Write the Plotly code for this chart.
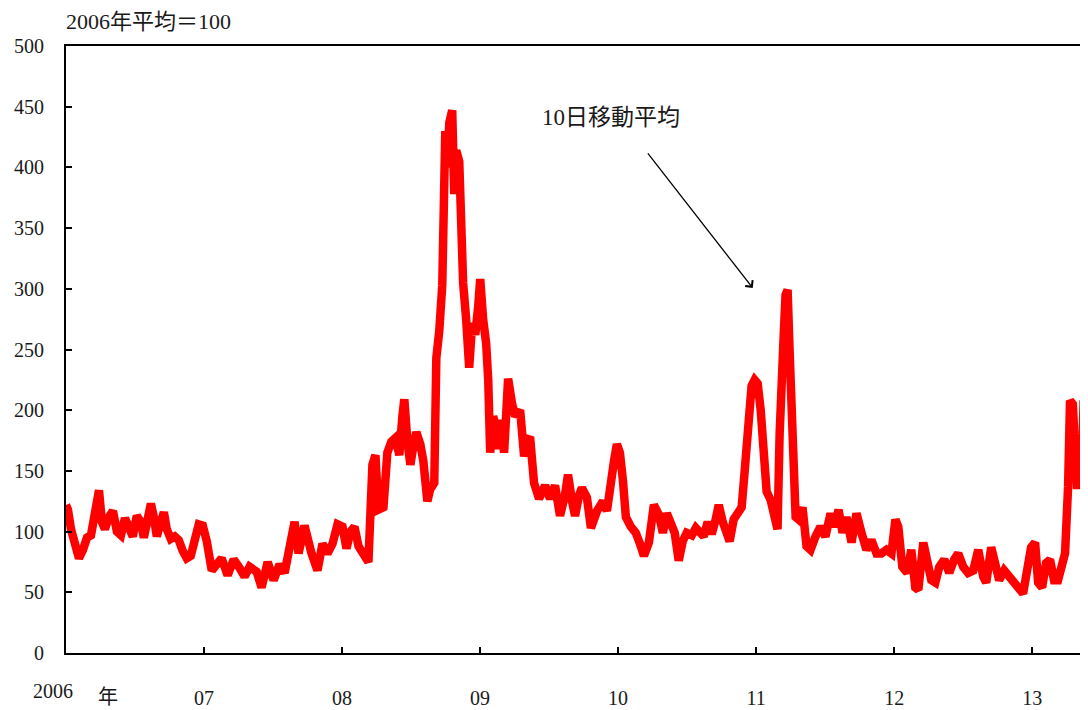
import plotly.graph_objects as go

# time in fractional years, 10-day moving average index (2006 avg = 100)
years = [
    2006.000, 2006.014, 2006.036, 2006.058, 2006.094, 2006.123, 2006.152, 2006.181, 2006.210, 2006.239,
    2006.260, 2006.282, 2006.311, 2006.340, 2006.369, 2006.398, 2006.427, 2006.456, 2006.484, 2006.513,
    2006.542, 2006.564, 2006.593, 2006.615, 2006.636, 2006.658, 2006.680, 2006.709, 2006.730, 2006.759,
    2006.788, 2006.817, 2006.846, 2006.875, 2006.904, 2006.933, 2006.962, 2006.991,
    2007.020, 2007.056, 2007.092, 2007.128, 2007.171, 2007.215, 2007.258, 2007.294, 2007.330, 2007.381,
    2007.417, 2007.461, 2007.504, 2007.547, 2007.584, 2007.620, 2007.656, 2007.685, 2007.728, 2007.779,
    2007.822, 2007.858, 2007.894, 2007.931, 2007.967,
    2008.003, 2008.032, 2008.061, 2008.090, 2008.119, 2008.148, 2008.176, 2008.191, 2008.220, 2008.242,
    2008.263, 2008.300, 2008.328, 2008.357, 2008.386, 2008.415, 2008.437, 2008.451, 2008.473, 2008.495,
    2008.516, 2008.538, 2008.567, 2008.589, 2008.618, 2008.639, 2008.668, 2008.683, 2008.704, 2008.726,
    2008.748, 2008.762, 2008.777, 2008.798, 2008.813, 2008.827, 2008.849, 2008.863, 2008.877, 2008.899,
    2008.921, 2008.943, 2008.965, 2008.986,
    2009.001, 2009.022, 2009.044, 2009.059, 2009.073, 2009.095, 2009.117, 2009.131, 2009.153, 2009.174,
    2009.203, 2009.232, 2009.254, 2009.290, 2009.319, 2009.341, 2009.362, 2009.391, 2009.427, 2009.471,
    2009.507, 2009.543, 2009.579, 2009.615, 2009.637, 2009.666, 2009.688, 2009.717, 2009.738, 2009.774,
    2009.803, 2009.847, 2009.890, 2009.919, 2009.948, 2009.970, 2009.991,
    2010.013, 2010.035, 2010.056, 2010.092, 2010.128, 2010.158, 2010.187, 2010.223, 2010.259, 2010.295,
    2010.324, 2010.353, 2010.382, 2010.410, 2010.439, 2010.468, 2010.497, 2010.534, 2010.563, 2010.591,
    2010.620, 2010.649, 2010.678, 2010.707, 2010.729, 2010.758, 2010.787, 2010.808, 2010.837, 2010.866,
    2010.895, 2010.917, 2010.939, 2010.967, 2010.989,
    2011.011, 2011.033, 2011.054, 2011.076, 2011.105, 2011.134, 2011.155, 2011.170, 2011.184, 2011.199,
    2011.213, 2011.228, 2011.242, 2011.257, 2011.271, 2011.286, 2011.307, 2011.336, 2011.365, 2011.394,
    2011.430, 2011.466, 2011.502, 2011.539, 2011.568, 2011.597, 2011.626, 2011.654, 2011.691, 2011.727,
    2011.763, 2011.799, 2011.835, 2011.872, 2011.908, 2011.944, 2011.980,
    2012.009, 2012.030, 2012.059, 2012.095, 2012.124, 2012.153, 2012.175, 2012.211, 2012.240, 2012.269,
    2012.298, 2012.327, 2012.363, 2012.399, 2012.435, 2012.464, 2012.500, 2012.536, 2012.573, 2012.609,
    2012.645, 2012.667, 2012.703, 2012.732, 2012.761, 2012.797, 2012.833, 2012.869, 2012.898, 2012.934,
    2012.963, 2012.992,
    2013.021, 2013.043, 2013.072, 2013.100, 2013.129, 2013.158, 2013.187, 2013.216, 2013.238, 2013.260,
    2013.274, 2013.294, 2013.308, 2013.325, 2013.340, 2013.356, 2013.372, 2013.392,
]
values = [
    122, 118, 102, 94, 78, 85, 95, 97, 112, 134,
    108, 102, 112, 117, 100, 97, 111, 104, 96, 113,
    108, 95, 113, 123, 112, 96, 105, 116, 102, 94,
    96, 93, 84, 78, 80, 95, 106, 105,
    92, 68, 72, 78, 64, 77, 70, 63, 71, 67,
    54, 75, 60, 73, 66, 88, 108, 82, 105, 82,
    68, 90, 82, 90, 106,
    104, 86, 100, 104, 88, 82, 76, 75, 155, 163,
    118, 120, 165, 174, 177, 163, 195, 209, 175, 155,
    170, 182, 172, 158, 125, 135, 140, 243, 265, 303,
    430, 400, 437, 447, 378, 414, 405, 352, 305, 275,
    235, 272, 262, 285,
    308, 275, 255, 225, 165, 195, 185, 168, 192, 165,
    226, 205, 195, 200, 162, 175, 178, 140, 127, 138,
    127, 138, 113, 130, 147, 125, 113, 130, 136, 128,
    103, 117, 125, 117, 135, 158, 172,
    165, 142, 112, 104, 99, 90, 80, 91, 122, 114,
    99, 115, 108, 99, 76, 92, 99, 97, 103, 98,
    96, 108, 98, 110, 122, 108, 100, 92, 110, 117,
    120, 150, 185, 220, 225,
    222, 200, 155, 133, 126, 110, 102, 180, 245, 260,
    295, 299, 250, 185, 135, 112, 110, 120, 88, 85,
    96, 104, 96, 115, 104, 118, 99, 112, 91, 115,
    99, 85, 93, 82, 82, 85, 82,
    110, 104, 71, 66, 85, 54, 52, 91, 77, 60,
    58, 71, 77, 66, 77, 82, 71, 66, 68, 85,
    63, 58, 87, 74, 60, 68, 63, 58, 52, 49,
    68, 87,
    91, 58, 54, 74, 77, 60, 60, 77, 82, 137,
    208, 205, 150, 135, 175, 138, 205, 205,
]

tick_years = [2006, 2007, 2008, 2009, 2010, 2011, 2012, 2013]
tick_text = ["", "07", "08", "09", "10", "11", "12", "13"]
y_ticks = [0, 50, 100, 150, 200, 250, 300, 350, 400, 450, 500]

FONT = "Liberation Serif, Noto Sans CJK JP, serif"
TXT = "#1a1a1a"

fig = go.Figure()
fig.add_trace(go.Scatter(
    x=years, y=values, mode="lines",
    line=dict(color="#ff0000", width=8.5),
    hoverinfo="skip", showlegend=False,
))

# page body has an 8px margin: figure is 1080x702 placed at (8, 8)
fig.update_layout(
    width=1080, height=702,
    margin=dict(l=58, r=0, t=38, b=57),
    paper_bgcolor="white", plot_bgcolor="white",
    font=dict(family=FONT, size=20, color=TXT),
    xaxis=dict(
        range=[2006, 2006 + 1022 / 138.3],
        tickvals=tick_years, ticktext=tick_text,
        ticks="inside", ticklen=6, tickwidth=1.5, tickcolor="black",
        showline=True, linecolor="black", linewidth=2, mirror=True,
        showgrid=False, zeroline=False,
        ticklabelstandoff=26,
        tickfont=dict(family=FONT, size=20, color=TXT),
    ),
    yaxis=dict(
        range=[0, 500],
        tickvals=y_ticks,
        ticks="inside", ticklen=6, tickwidth=1.5, tickcolor="black",
        showline=True, linecolor="black", linewidth=2, mirror=True,
        showgrid=False, zeroline=False,
        ticklabelstandoff=16,
        tickfont=dict(family=FONT, size=20, color=TXT),
    ),
    annotations=[
        dict(text="2006年平均＝100", xref="paper", yref="paper", x=-0.002, y=1.04,
             xanchor="left", yanchor="middle", showarrow=False,
             font=dict(family=FONT, size=22, color=TXT)),
        dict(text="2006", xref="x", yref="paper", x=2006, y=-0.062,
             xanchor="center", yanchor="middle", xshift=-13, showarrow=False,
             font=dict(family=FONT, size=20, color=TXT)),
        dict(text="年", xref="paper", yref="paper", x=0.041, y=-0.073,
             xanchor="center", yanchor="middle", showarrow=False,
             font=dict(family=FONT, size=20, color=TXT)),
        dict(text="10日移動平均", xref="x", yref="y", x=2009.948, y=441.5,
             xanchor="center", yanchor="middle", showarrow=False,
             font=dict(family=FONT, size=23, color=TXT)),
        dict(text="", xref="x", yref="y", x=2010.975, y=300.7,
             ax=-106, ay=-136, axref="pixel", ayref="pixel",
             showarrow=True, arrowhead=4, arrowsize=1.4, arrowwidth=1.3,
             arrowcolor="black"),
    ],
)

fig.write_html("out.html")
